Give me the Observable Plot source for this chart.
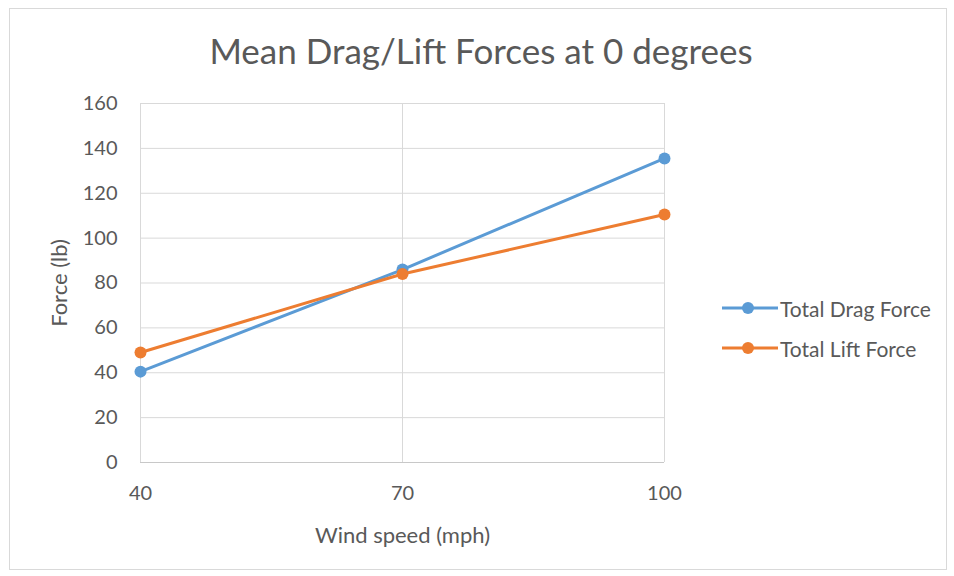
<!DOCTYPE html>
<html>
<head>
<meta charset="utf-8">
<script src="https://cdn.jsdelivr.net/npm/d3@7"></script>
<script src="https://cdn.jsdelivr.net/npm/@observablehq/plot@0.6"></script>
<style>
  body { margin: 0; background: #fff; font-family: Lato, "Open Sans", sans-serif; }
  #wrap { position: relative; width: 954px; height: 576px; overflow: hidden; }
  #frame { position: absolute; left: 9px; top: 8px; width: 938px; height: 562px; border: 1px solid #d9d9d9; box-sizing: border-box; }
  #title { position: absolute; left: 0; width: 962px; top: 26px; text-align: center; font-size: 35px; color: #595959; line-height: 48px; }
  #chart { position: absolute; left: 0; top: 0; }
  #legend { position: absolute; left: 722px; top: 288px; font-size: 21px; color: #595959; }
  .item { display: flex; align-items: center; height: 40px; }
  .item svg { margin-right: 2px; }
</style>
</head>
<body>
<div id="wrap">
  <div id="frame"></div>
  <div id="chart"></div>
  <div id="title">Mean Drag/Lift Forces at 0 degrees</div>
  <div id="legend"></div>
</div>
<script>
const windSpeeds = [40, 70, 100];
const dragForce = [40.5, 86, 135.5];
const liftForce = [49, 84, 110.5];
const seriesNames = ["Total Drag Force", "Total Lift Force"];
const seriesColors = ["#5b9bd5", "#ed7d31"];
const yTicks = [0, 20, 40, 60, 80, 100, 120, 140, 160];
const xLabel = "Wind speed (mph)";
const yLabel = "Force (lb)";

const data = [];
windSpeeds.forEach((w, i) => {
  data.push({series: seriesNames[0], speed: w, force: dragForce[i]});
  data.push({series: seriesNames[1], speed: w, force: liftForce[i]});
});

const chart = Plot.plot({
  width: 954,
  height: 576,
  marginLeft: 140,
  marginRight: 290,
  marginTop: 103,
  marginBottom: 114,
  style: {fontFamily: "Lato, 'Open Sans', sans-serif", fontSize: "20px", color: "#595959", background: "transparent"},
  x: {domain: [40, 100]},
  y: {domain: [0, 160]},
  color: {domain: seriesNames, range: seriesColors},
  marks: [
    Plot.gridY(yTicks, {stroke: "#d9d9d9", strokeOpacity: 1, strokeWidth: 1}),
    Plot.gridX(windSpeeds, {stroke: "#d9d9d9", strokeOpacity: 1, strokeWidth: 1}),
    Plot.ruleY([0], {stroke: "#c8c8c8", strokeWidth: 1}),
    Plot.axisY(yTicks, {tickSize: 0, tickPadding: 23, label: null, fontSize: 20}),
    Plot.axisX(windSpeeds, {tickSize: 0, tickPadding: 23, label: null, fontSize: 20}),
    Plot.text([yLabel], {frameAnchor: "left", rotate: -90, dx: -81, textAnchor: "middle", lineAnchor: "middle", fontSize: 22, fill: "#595959", letterSpacing: "0.5px"}),
    Plot.text([xLabel], {frameAnchor: "bottom", dy: 73, textAnchor: "middle", lineAnchor: "middle", fontSize: 22, fill: "#595959", letterSpacing: "0.5px"}),
    Plot.line(data, {x: "speed", y: "force", stroke: "series", strokeWidth: 3}),
    Plot.dot(data, {x: "speed", y: "force", fill: "series", r: 6})
  ]
});
document.getElementById("chart").appendChild(chart);

const legend = d3.select("#legend");
seriesNames.forEach((name, i) => {
  const item = legend.append("div").attr("class", "item");
  const svg = item.append("svg").attr("width", 56).attr("height", 16);
  svg.append("line").attr("x1", 0).attr("x2", 56).attr("y1", 8).attr("y2", 8)
     .attr("stroke", seriesColors[i]).attr("stroke-width", 3);
  svg.append("circle").attr("cx", 26).attr("cy", 8).attr("r", 6).attr("fill", seriesColors[i]);
  item.append("span").text(name);
});
</script>
</body>
</html>
